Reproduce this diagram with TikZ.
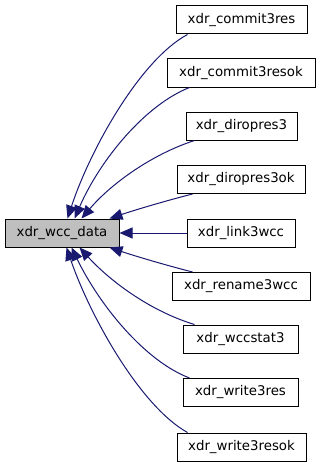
\documentclass[tikz,border=0pt]{standalone}
\usepackage{fontspec}
\setmainfont{DejaVu Sans}
\usetikzlibrary{arrows.meta,calc}
\definecolor{edgeblue}{RGB}{25,25,112}
\definecolor{mainfill}{RGB}{191,191,191}
\begin{document}
\begin{tikzpicture}[x=0.75pt,y=-0.75pt,
  box/.style={draw=black, line width=0.75pt, minimum height=21pt, inner sep=0pt,
    font=\fontsize{10}{12}\selectfont, fill=white},
  mainbox/.style={box, fill=mainfill},
  wd/.style={minimum width=0.75pt*#1},
  edge/.style={draw=edgeblue, line width=0.75pt,
    -{Triangle[length=9.75pt,width=8.25pt]}}]
\useasboundingbox (0,0) rectangle (320,467);

% central struct
\node[mainbox, wd=114] (main) at (62,233) {xdr\_wcc\_data};

% callers
\node[box, wd=131] (r1) at (241.5,20)  {xdr\_commit3res};
\node[box, wd=148] (r2) at (241,73)    {xdr\_commit3resok};
\node[box, wd=111] (r3) at (241.5,126) {xdr\_diropres3};
\node[box, wd=128] (r4) at (241,179.5) {xdr\_diropres3ok};
\node[box, wd=108] (r5) at (241,233)   {xdr\_link3wcc};
\node[box, wd=138] (r6) at (241,286.5) {xdr\_rename3wcc};
\node[box, wd=115] (r7) at (240.5,339) {xdr\_wccstat3};
\node[box, wd=115] (r8) at (240.5,392.5) {xdr\_write3res};
\node[box, wd=129] (r9) at (241.5,447) {xdr\_write3resok};

% edges into the central struct
\draw[edge] ($(r1.south west)+(12,0)$) .. controls (140,60) and (90,150) .. ($(main.north west)+(63,0)$);
\draw[edge] ($(r2.south west)+(23,0)$) .. controls (145,105) and (100,160) .. ($(main.north west)+(70,0)$);
\draw[edge] ($(r3.south west)+(9,0)$) .. controls (150,155) and (110,185) .. ($(main.north west)+(77,0)$);
\draw[edge] ($(r4.south west)+(16,0)$) .. controls (165,201) and (135,210) .. ($(main.north west)+(105,0)$);
\draw[edge] (r5.west) -- (main.east);
\draw[edge] ($(r6.north west)+(21,0)$) .. controls (165,265) and (135,256) .. ($(main.south west)+(105,0)$);
\draw[edge] ($(r7.north west)+(12,0)$) .. controls (150,311) and (110,281) .. ($(main.south west)+(75,0)$);
\draw[edge] ($(r8.north west)+(7,0)$) .. controls (145,361) and (100,306) .. ($(main.south west)+(67,0)$);
\draw[edge] ($(r9.north west)+(11,0)$) .. controls (140,406) and (90,316) .. ($(main.south west)+(62,0)$);
\end{tikzpicture}
\end{document}
